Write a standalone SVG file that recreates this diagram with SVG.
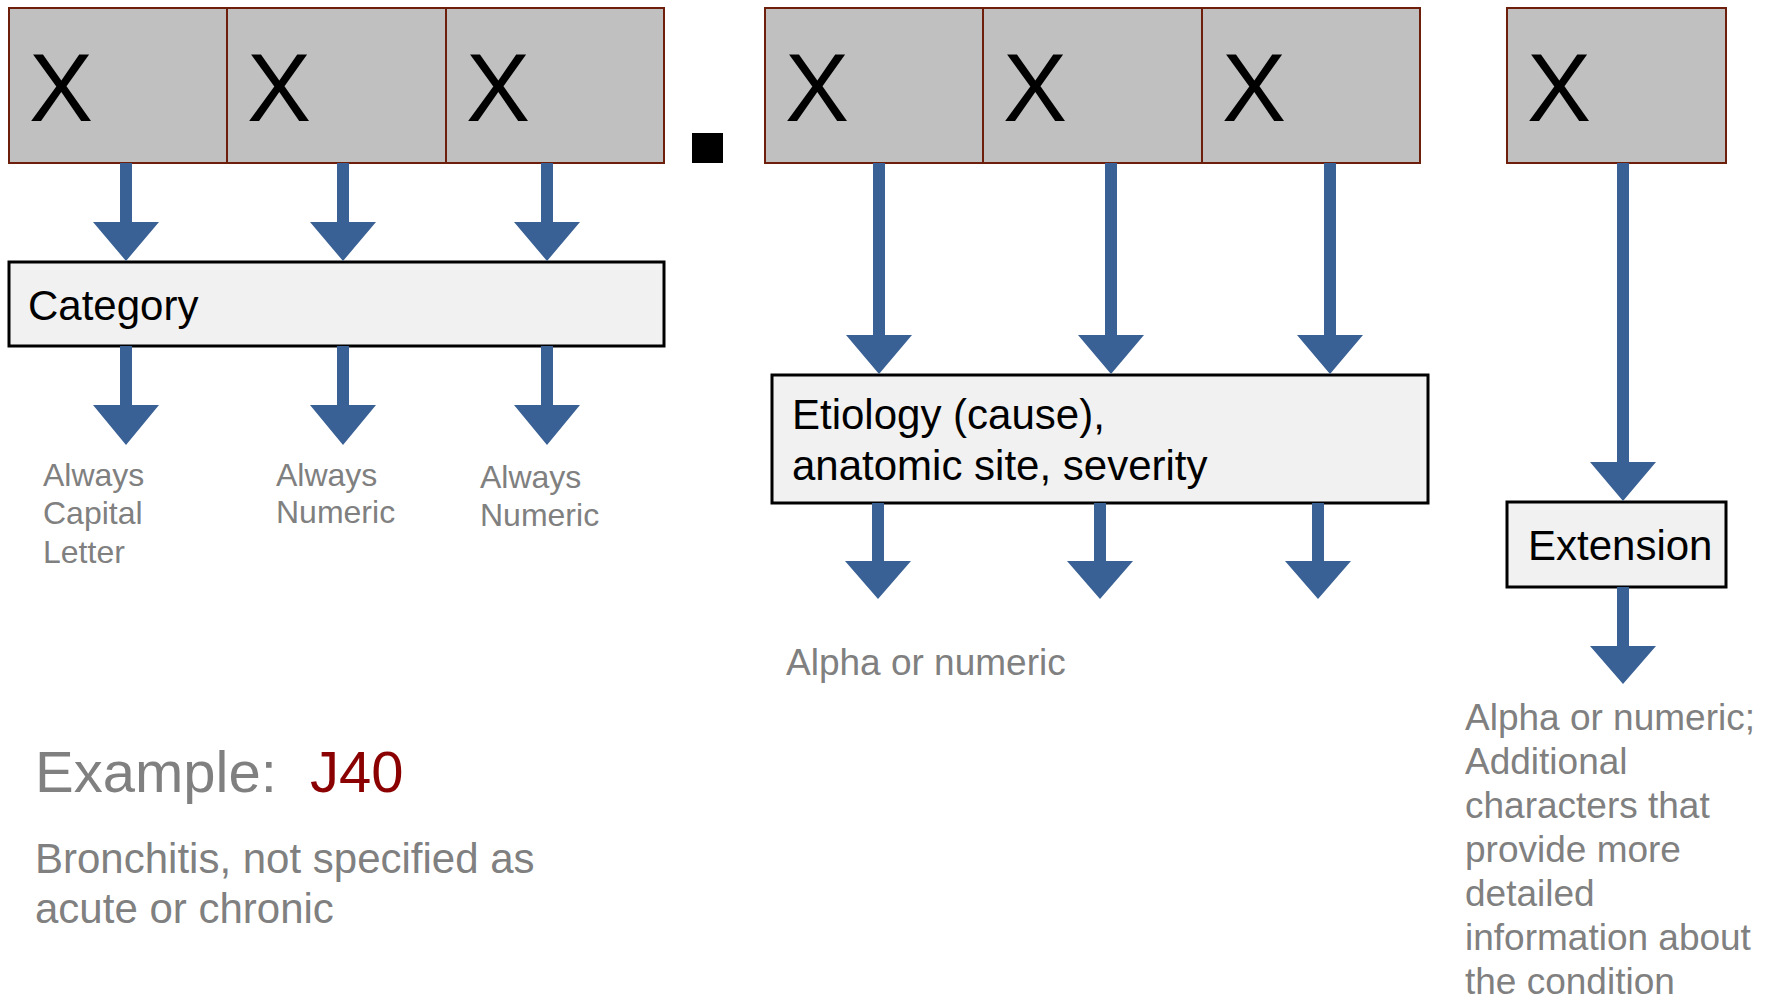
<svg xmlns="http://www.w3.org/2000/svg" width="1769" height="1003" viewBox="0 0 1769 1003">
  <style>
    .cell { fill: #c0c0c0; stroke: #6e1f0c; stroke-width: 2; }
    .box { fill: #f1f1f1; stroke: #000000; stroke-width: 3; }
    .x { font-family: "Liberation Sans", Arial, sans-serif; font-size: 96px; fill: #000000; }
    .lbl { font-family: "Liberation Sans", Arial, sans-serif; font-size: 42px; fill: #000000; }
    .note { font-family: "Liberation Sans", Arial, sans-serif; fill: #808080; }
    .arrow { fill: #3a6195; }
  </style>
  <rect width="1769" height="1003" fill="#ffffff"/>

  <!-- category characters -->
  <g id="char1"><rect class="cell" x="9" y="8" width="218" height="155"/><text class="x" x="29" y="121">X</text></g>
  <g id="char2"><rect class="cell" x="227" y="8" width="219" height="155"/><text class="x" x="247" y="121">X</text></g>
  <g id="char3"><rect class="cell" x="446" y="8" width="218" height="155"/><text class="x" x="466" y="121">X</text></g>

  <!-- decimal point -->
  <g id="dot"><rect x="692" y="133" width="31" height="30" fill="#000000"/></g>

  <!-- etiology characters -->
  <g id="char4"><rect class="cell" x="765" y="8" width="218" height="155"/><text class="x" x="785" y="121">X</text></g>
  <g id="char5"><rect class="cell" x="983" y="8" width="219" height="155"/><text class="x" x="1003" y="121">X</text></g>
  <g id="char6"><rect class="cell" x="1202" y="8" width="218" height="155"/><text class="x" x="1222" y="121">X</text></g>

  <!-- extension character -->
  <g id="char7"><rect class="cell" x="1507" y="8" width="219" height="155"/><text class="x" x="1527" y="121">X</text></g>

  <!-- description boxes -->
  <g id="category"><rect class="box" x="9" y="262" width="655" height="84"/><text class="lbl" x="28" y="320">Category</text></g>
  <g id="etiology"><rect class="box" x="772" y="375" width="656" height="128"/>
    <text class="lbl" x="792" y="429">Etiology (cause),</text>
    <text class="lbl" x="792" y="480">anatomic site, severity</text>
  </g>
  <g id="extension"><rect class="box" x="1507" y="502" width="219" height="85"/><text class="lbl" x="1528" y="560">Extension</text></g>

  <!-- connectors -->
  <g id="connectors" class="arrow">
    <polygon points="120,163 132,163 132,222 159,222 126,261 93,222 120,222"/>
    <polygon points="337,163 349,163 349,222 376,222 343,261 310,222 337,222"/>
    <polygon points="541,163 553,163 553,222 580,222 547,261 514,222 541,222"/>

    <polygon points="120,346 132,346 132,405 159,405 126,445 93,405 120,405"/>
    <polygon points="337,346 349,346 349,405 376,405 343,445 310,405 337,405"/>
    <polygon points="541,346 553,346 553,405 580,405 547,445 514,405 541,405"/>

    <polygon points="873,163 885,163 885,335 912,335 879,374 846,335 873,335"/>
    <polygon points="1105,163 1117,163 1117,335 1144,335 1111,374 1078,335 1105,335"/>
    <polygon points="1324,163 1336,163 1336,335 1363,335 1330,374 1297,335 1324,335"/>

    <polygon points="872,503 884,503 884,561 911,561 878,599 845,561 872,561"/>
    <polygon points="1094,503 1106,503 1106,561 1133,561 1100,599 1067,561 1094,561"/>
    <polygon points="1312,503 1324,503 1324,561 1351,561 1318,599 1285,561 1312,561"/>

    <polygon points="1617,163 1629,163 1629,462 1656,462 1623,501 1590,462 1617,462"/>
    <polygon points="1617,587 1629,587 1629,646 1656,646 1623,684 1590,646 1617,646"/>
  </g>

  <!-- notes -->
  <g id="note-letter" class="note" font-size="32">
    <text x="43" y="486">Always</text>
    <text x="43" y="524">Capital</text>
    <text x="43" y="563">Letter</text>
  </g>
  <g id="note-num1" class="note" font-size="32">
    <text x="276" y="486">Always</text>
    <text x="276" y="523">Numeric</text>
  </g>
  <g id="note-num2" class="note" font-size="32">
    <text x="480" y="488">Always</text>
    <text x="480" y="526">Numeric</text>
  </g>
  <g id="note-alpha" class="note" font-size="37">
    <text x="786" y="675">Alpha or numeric</text>
  </g>
  <g id="note-ext" class="note" font-size="37">
    <text x="1465" y="730">Alpha or numeric;</text>
    <text x="1465" y="774">Additional</text>
    <text x="1465" y="818">characters that</text>
    <text x="1465" y="862">provide more</text>
    <text x="1465" y="906">detailed</text>
    <text x="1465" y="950">information about</text>
    <text x="1465" y="994">the condition</text>
  </g>

  <!-- example -->
  <g id="example">
    <text class="note" font-size="58" x="35" y="792">Example:</text>
    <text font-family="'Liberation Sans', Arial, sans-serif" font-size="58" fill="#8b0000" x="310" y="792">J40</text>
    <text class="note" font-size="42" x="35" y="873">Bronchitis, not specified as</text>
    <text class="note" font-size="42" x="35" y="923">acute or chronic</text>
  </g>
</svg>
